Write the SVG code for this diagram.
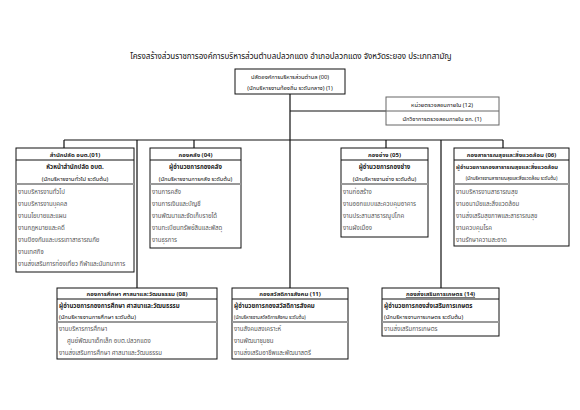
<svg xmlns="http://www.w3.org/2000/svg" width="580" height="410" viewBox="0 0 580 410">
<style>
text{font-family:"Noto Sans Thai","Liberation Sans","DejaVu Sans",sans-serif;fill:#111}
.t{font-size:8px;text-anchor:middle}
.h{font-size:6px;text-anchor:middle;font-weight:bold;fill:#222}
.p{font-size:6.1px;font-weight:bold;fill:#222}
.s{font-size:5.8px}
.xs{font-size:4.6px}
.c{text-anchor:middle}
.i{font-size:6.1px;fill:#555}
.box{fill:#fff;stroke:#111;stroke-width:1}
.div{stroke:#111;stroke-width:1}
.gd{stroke:#999;stroke-width:1.8}
.ln{stroke:#111;stroke-width:1.2;fill:none}
</style>
<rect width="580" height="410" fill="#fff"/>
<text class="t" x="291" y="59">โครงสร้างส่วนราชการองค์การบริหารส่วนตำบลปลวกแดง  อำเภอปลวกแดง  จังหวัดระยอง ประเภทสามัญ</text>

<g id="connectors">
<path class="ln" d="M290 94V288M290 111H386M64 140H503M64 140V148M137 140V288M194 140V148M386 140V148M441 140V288M503 140V148"/>
</g>

<g id="n00">
<rect class="box" x="235" y="69" width="110" height="25"/>
<text class="s c" x="290" y="79">ปลัดองค์การบริหารส่วนตำบล (00)</text>
<text class="s c" x="290" y="90">(นักบริหารงานท้องถิ่น ระดับกลาง) (1)</text>
</g>

<g id="n12">
<rect class="box" x="386" y="97" width="113" height="28" style="stroke:#666"/>
<line x1="386" y1="111" x2="499" y2="111" style="stroke:#666"/>
<text class="s c" x="442" y="106.5">หน่วยตรวจสอบภายใน (12)</text>
<text class="s c" x="442" y="120.5">นักวิชาการตรวจสอบภายใน ชก. (1)</text>
</g>

<g id="n01">
<rect class="box" x="16" y="148" width="118" height="124"/>
<line class="div" x1="16" y1="160" x2="134" y2="160"/>
<line class="gd" x1="16" y1="184" x2="134" y2="184"/>
<text class="h" x="75" y="157">สำนักปลัด อบต.(01)</text>
<text class="p c" x="75" y="169">หัวหน้าสำนักปลัด อบต.</text>
<text class="s c" x="75" y="181">(นักบริหารงานทั่วไป ระดับต้น)</text>
<text class="i" x="18" y="194">งานบริหารงานทั่วไป</text>
<text class="i" x="18" y="206">งานบริหารงานบุคคล</text>
<text class="i" x="18" y="218">งานนโยบายและแผน</text>
<text class="i" x="18" y="230">งานกฎหมายและคดี</text>
<text class="i" x="18" y="242">งานป้องกันและบรรเทาสาธารณภัย</text>
<text class="i" x="18" y="254">งานเทศกิจ</text>
<text class="i" x="18" y="266">งานส่งเสริมการท่องเที่ยว กีฬาและนันทนาการ</text>
</g>

<g id="n04">
<rect class="box" x="150" y="148" width="91" height="100"/>
<line class="div" x1="150" y1="160" x2="241" y2="160"/>
<line class="gd" x1="150" y1="184" x2="241" y2="184"/>
<text class="h" x="195.5" y="157">กองคลัง (04)</text>
<text class="p c" x="195.5" y="169">ผู้อำนวยการกองคลัง</text>
<text class="s c" x="195.5" y="181">(นักบริหารงานการคลัง ระดับต้น)</text>
<text class="i" x="152" y="194">งานการคลัง</text>
<text class="i" x="152" y="206">งานการเงินและบัญชี</text>
<text class="i" x="152" y="218">งานพัฒนาและจัดเก็บรายได้</text>
<text class="i" x="152" y="230">งานทะเบียนทรัพย์สินและพัสดุ</text>
<text class="i" x="152" y="242">งานธุรการ</text>
</g>

<g id="n05">
<rect class="box" x="341" y="148" width="87" height="89"/>
<line class="div" x1="341" y1="160" x2="428" y2="160"/>
<line class="gd" x1="341" y1="184" x2="428" y2="184"/>
<text class="h" x="384.5" y="157">กองช่าง (05)</text>
<text class="p c" x="384.5" y="169">ผู้อำนวยการกองช่าง</text>
<text class="s c" x="384.5" y="181">(นักบริหารงานช่าง ระดับต้น)</text>
<text class="i" x="343" y="194">งานก่อสร้าง</text>
<text class="i" x="343" y="206">งานออกแบบและควบคุมอาคาร</text>
<text class="i" x="343" y="218">งานประสานสาธารณูปโภค</text>
<text class="i" x="343" y="230">งานผังเมือง</text>
</g>

<g id="n06">
<rect class="box" x="454" y="148" width="115" height="98"/>
<line class="div" x1="454" y1="160" x2="569" y2="160"/>
<line class="gd" x1="454" y1="184" x2="569" y2="184"/>
<text class="h" x="511.5" y="157">กองสาธารณสุขและสิ่งแวดล้อม (06)</text>
<text class="p" x="456" y="169" style="font-size:5.7px">ผู้อำนวยการกองสาธารณสุขและสิ่งแวดล้อม</text>
<text class="xs c" x="511.5" y="180">(นักบริหารงานสาธารณสุขและสิ่งแวดล้อม ระดับต้น)</text>
<text class="i" x="456" y="194">งานบริหารงานสาธารณสุข</text>
<text class="i" x="456" y="206">งานอนามัยและสิ่งแวดล้อม</text>
<text class="i" x="456" y="218">งานส่งเสริมสุขภาพและสาธารณสุข</text>
<text class="i" x="456" y="230">งานควบคุมโรค</text>
<text class="i" x="456" y="242">งานรักษาความสะอาด</text>
</g>

<g id="n08">
<rect class="box" x="57" y="288" width="160" height="71"/>
<line class="div" x1="57" y1="299" x2="217" y2="299"/>
<line class="gd" x1="57" y1="322" x2="217" y2="322"/>
<text class="h" x="137" y="296">กองการศึกษา ศาสนาและวัฒนธรรม (08)</text>
<text class="p" x="59" y="308">ผู้อำนวยการกองการศึกษา ศาสนาและวัฒนธรรม</text>
<text class="s" x="59" y="319">(นักบริหารงานการศึกษา ระดับต้น)</text>
<text class="i" x="59" y="331">งานบริหารการศึกษา</text>
<text class="i" x="67" y="343">ศูนย์พัฒนาเด็กเล็ก อบต.ปลวกแดง</text>
<text class="i" x="59" y="355">งานส่งเสริมการศึกษา ศาสนาและวัฒนธรรม</text>
</g>

<g id="n11">
<rect class="box" x="232" y="288" width="116" height="71"/>
<line class="div" x1="232" y1="299" x2="348" y2="299"/>
<line class="gd" x1="232" y1="322" x2="348" y2="322"/>
<text class="h" x="290" y="296">กองสวัสดิการสังคม (11)</text>
<text class="p" x="234" y="308">ผู้อำนวยการกองสวัสดิการสังคม</text>
<text class="xs" x="234" y="319">(นักบริหารงานสวัสดิการสังคม ระดับต้น)</text>
<text class="i" x="234" y="331">งานสังคมสงเคราะห์</text>
<text class="i" x="234" y="343">งานพัฒนาชุมชน</text>
<text class="i" x="234" y="355">งานส่งเสริมอาชีพและพัฒนาสตรี</text>
</g>

<g id="n14">
<rect class="box" x="382" y="288" width="117" height="48"/>
<line class="div" x1="382" y1="299" x2="499" y2="299"/>
<line class="gd" x1="382" y1="322" x2="499" y2="322"/>
<text class="h" x="440.5" y="296" text-decoration="underline">กองส่งเสริมการเกษตร (14)</text>
<text class="p" x="384" y="308">ผู้อำนวยการกองส่งเสริมการเกษตร</text>
<text class="s" x="384" y="319">(นักบริหารงานการเกษตร ระดับต้น)</text>
<text class="i" x="384" y="331">งานส่งเสริมการเกษตร</text>
</g>
</svg>
